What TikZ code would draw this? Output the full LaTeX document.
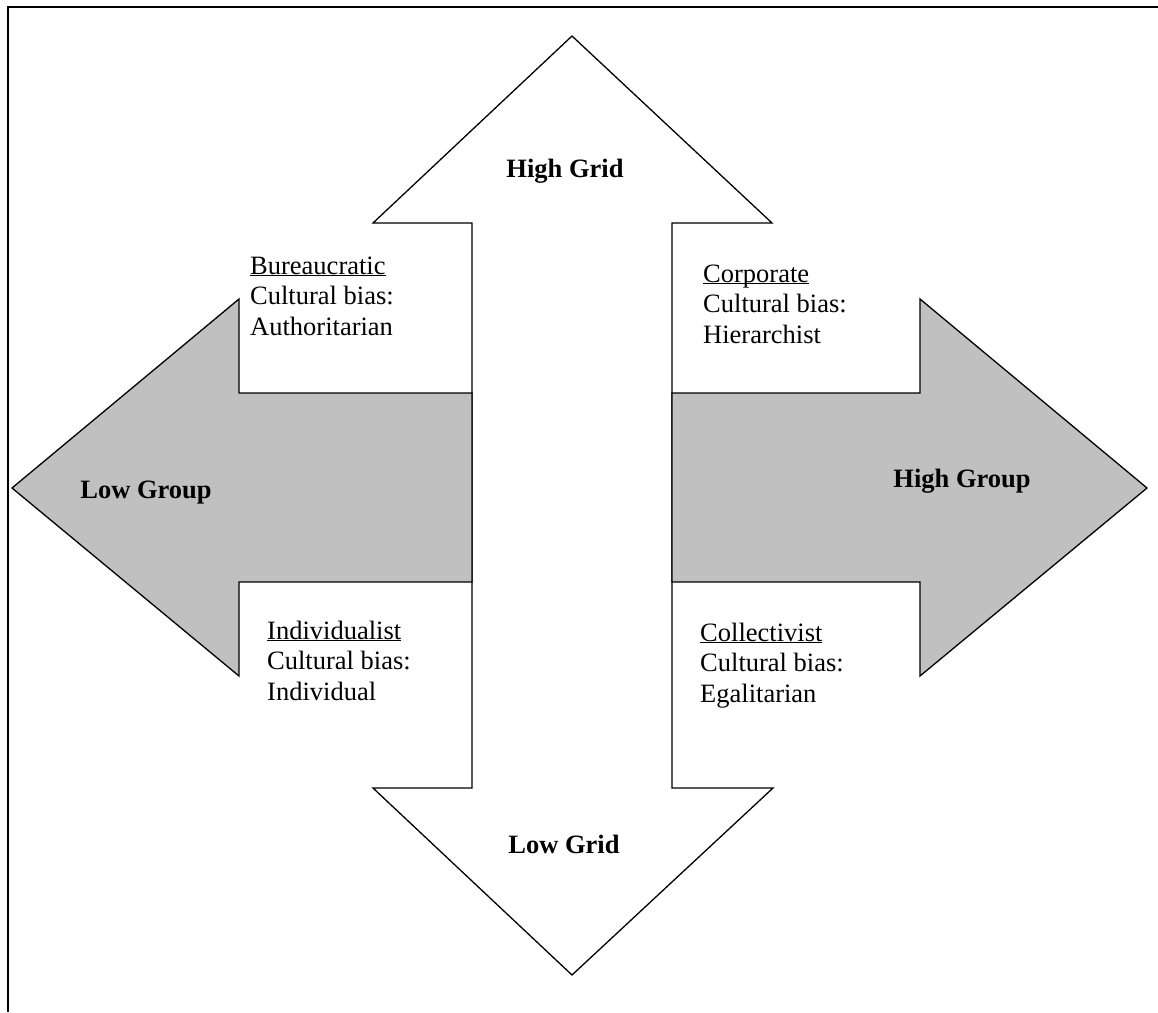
\documentclass[tikz,border=0pt]{standalone}
\usepackage{fontspec}
\setmainfont{Liberation Serif}
\definecolor{shadegray}{RGB}{192,192,192}
\newcommand{\quadhead}[1]{\underline{\smash{#1}}}
\tikzset{
  arrowshape/.style={draw, line width=1.3pt, line join=miter, fill=white},
  grayarrow/.style={arrowshape, fill=shadegray},
  axislabel/.style={font=\fontsize{26.5}{30.5}\selectfont\bfseries, inner sep=0pt, anchor=base},
  quadtext/.style={font=\fontsize{26.5}{30.5}\selectfont, align=left, inner sep=0pt, anchor=base west},
}
\begin{document}
\begin{tikzpicture}[x=1pt, y=-1pt]
      \useasboundingbox (0,0) rectangle (1158,1012);
      % frame
      \draw[line width=2pt] (8,1012) -- (8,7) -- (1158,7);
      % grid arrow
      \draw[arrowshape] (472,788) -- (472,223) -- (373,223) -- (572,36) -- (772,223) -- (672,223)
        -- (672,788) -- (773,788) -- (572,975) -- (373,788) -- cycle;
      % group arrows
      \draw[grayarrow] (472,393) -- (239,393) -- (239,299) -- (12,488) -- (239,676) -- (239,582) -- (472,582) -- cycle;
      \draw[grayarrow] (672,393) -- (920,393) -- (920,299) -- (1147,488) -- (920,676) -- (920,582) -- (672,582) -- cycle;
      \node[axislabel] (hgrid) at (565,177) {High Grid};
      \node[axislabel] (lgrid) at (564,853) {Low Grid};
      \node[axislabel] (lgroup) at (146,498) {Low Group};
      \node[axislabel] (hgroup) at (962,487) {High Group};
      % anchor is the baseline of the last line
      \node[quadtext] (bur) at (250,335) {\quadhead{Bureaucratic}\\Cultural bias:\\Authoritarian};
      \node[quadtext] (corp) at (703,343) {\quadhead{Corporate}\\Cultural bias:\\Hierarchist};
      \node[quadtext] (ind) at (267,700) {\quadhead{Individualist}\\Cultural bias:\\Individual};
      \node[quadtext] (coll) at (700,702) {\quadhead{Collectivist}\\Cultural bias:\\Egalitarian};
    \end{tikzpicture}
\end{document}
